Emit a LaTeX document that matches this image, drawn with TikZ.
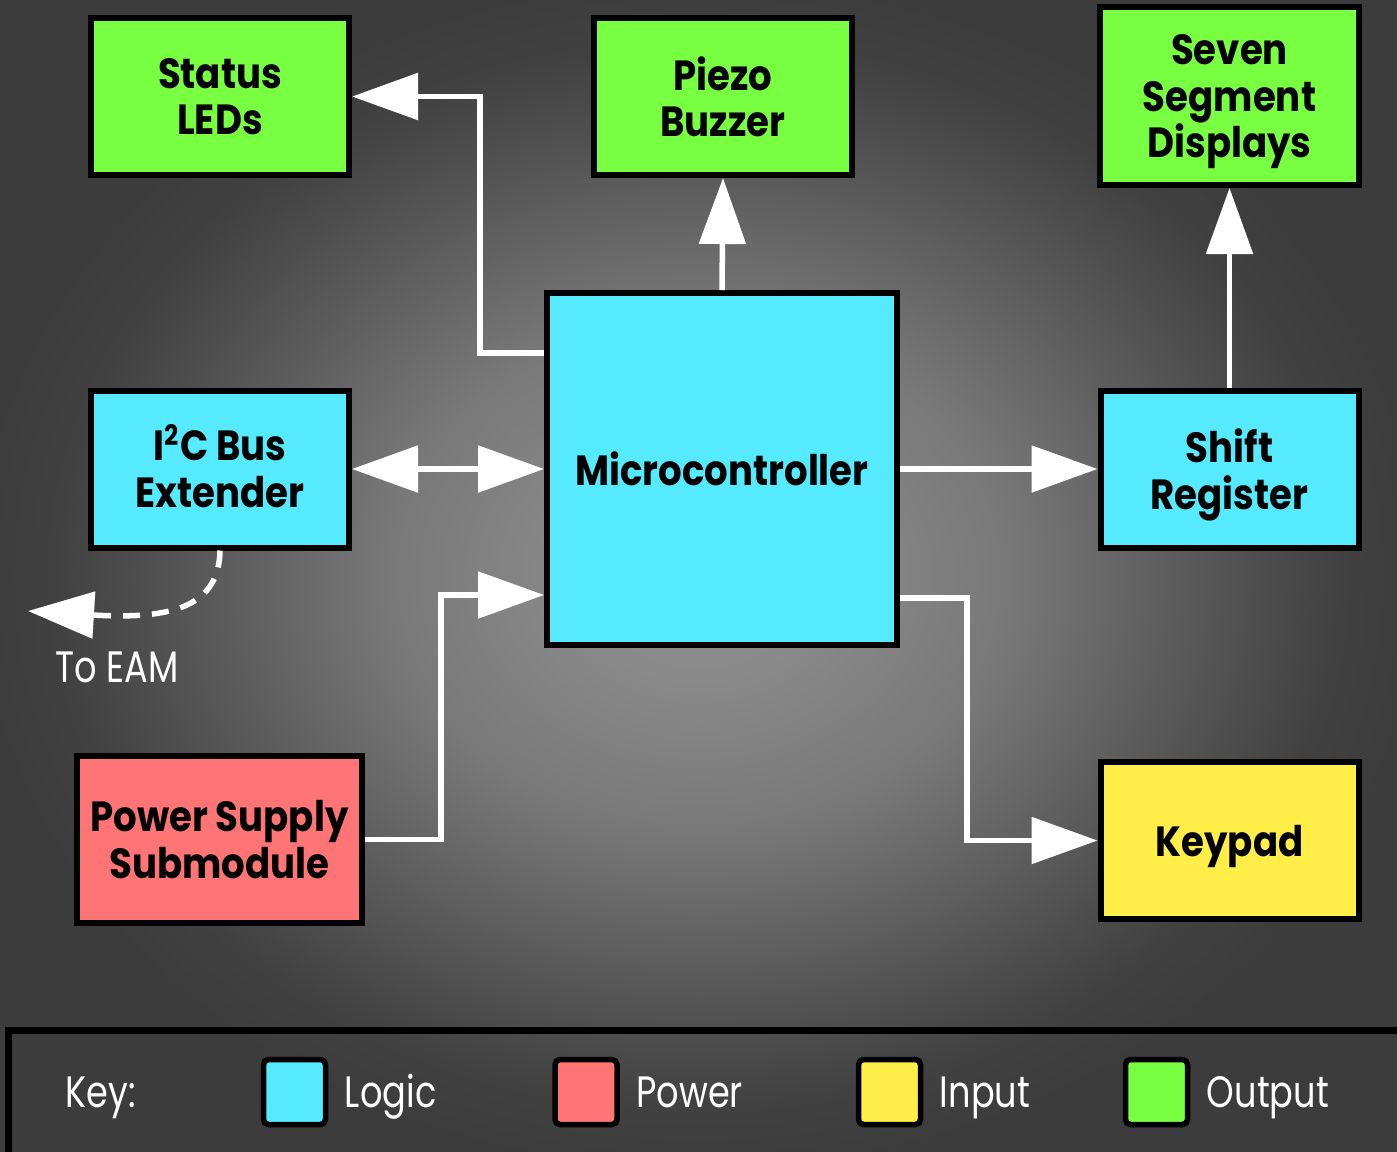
\documentclass[tikz,border=0pt]{standalone}
\usepackage{fontspec}
\setmainfont{Poppins}
\newfontfamily\boxfont[FakeStretch=0.88]{Poppins}
\newfontfamily\keyfont[FakeStretch=0.8]{Poppins}
\usetikzlibrary{arrows.meta,positioning}
\tikzstyle{block}=[draw,line width=0.6mm,align=center,inner sep=0pt,minimum width=25.8mm,minimum height=15.7mm,font=\boxfont\bfseries\fontsize{12}{13.2}\selectfont,text=black,text depth=0pt]
\tikzstyle{link}=[white,line width=0.55mm,-{Triangle[length=6.6mm,width=4.6mm]}]
\tikzstyle{swatch}=[draw,line width=0.55mm,rounded corners=0.5mm,minimum width=6.2mm,minimum height=6.5mm,inner sep=0pt]
\tikzstyle{keytext}=[text=white,inner sep=0pt,text height=3mm,text depth=0pt,font=\keyfont\fontsize{12.5}{14}\selectfont]
\definecolor{mycyan}{RGB}{85,234,254}
\definecolor{mygreen}{RGB}{120,255,66}
\definecolor{mysalmon}{RGB}{255,117,117}
\definecolor{myyellow}{RGB}{255,238,72}
\definecolor{bga}{RGB}{142,142,142}
\definecolor{bgb}{RGB}{137,137,137}
\definecolor{bgc}{RGB}{121,121,121}
\definecolor{bgd}{RGB}{78,78,78}
\definecolor{bge}{RGB}{65,65,65}
\definecolor{bgedge}{RGB}{60,60,60}
\pgfdeclareradialshading{glow}{\pgfpoint{0bp}{0bp}}{color(0bp)=(bga); color(4.5bp)=(bgb); color(11bp)=(bgc); color(20bp)=(bgd); color(23bp)=(bge); color(26bp)=(bgedge); color(50bp)=(bgedge)}

\begin{document}
\begin{tikzpicture}
\useasboundingbox (0,0) rectangle (13.97,-11.51);
\shade[shading=glow] (0,0) rectangle (13.97,-11.51);
% blocks
\draw (2.20, -0.965) node [block, fill=mygreen] (leds) {Status\\LEDs};
\draw (7.23, -0.965) node [block, fill=mygreen] (buzzer) {Piezo\\Buzzer};
\draw (12.295, -0.96) node [block, fill=mygreen, minimum width=25.9mm, minimum height=17.8mm] (seven) {Seven\\Segment\\Displays};
\draw (2.20, -4.69) node [block, fill=mycyan] (i2c) {I\smash{\textsuperscript{2}}C Bus\\Extender};
\draw (7.22, -4.69) node [block, fill=mycyan, minimum width=35mm, minimum height=35.2mm] (mcu) {Microcontroller};
\draw (12.295, -4.69) node [block, fill=mycyan] (shift) {Shift\\Register};
\draw (2.195, -8.395) node [block, fill=mysalmon, minimum width=28.5mm, minimum height=16.7mm] (power) {Power Supply\\Submodule};
\draw (12.295, -8.405) node [block, fill=myyellow] (keypad) {Keypad};
% connections
\draw[link] (mcu.north) -- (buzzer.south);
\draw[link] ([yshift=-6.3mm]mcu.north west) -- ++(-0.64,0) |- (leds.east);
\draw[link, {Triangle[length=6.6mm,width=4.6mm]}-{Triangle[length=6.6mm,width=4.6mm]}] (i2c.east) -- (mcu.west);
\draw[link] (mcu.east) -- (shift.west);
\draw[link] (shift.north) -- (seven.south);
\draw[link] ([yshift=5mm]mcu.south east) -- ++(0.67,0) |- (keypad.west);
\draw[link] (power.east) -- ++(0.76,0) |- ([yshift=5.3mm]mcu.south west);
\coordinate (eam) at (0.28, -6.11);
\draw[link, dash pattern=on 1.7mm off 1.2mm] (i2c.south) .. controls (2.19, -6.05) and (1.75, -6.2) .. (eam);
\draw (1.17, -6.67) node [keytext] (toeam) {To EAM};
% key
\begin{scope}
\clip (0,0) rectangle (13.97,-11.51);
\draw[line width=0.7mm] (0.09, -10.30) rectangle (14.3, -11.8);
\end{scope}
\draw (1.01, -10.92) node [keytext] (key) {Key:};
\draw (2.945, -10.92) node [swatch, fill=mycyan] (klogic) {};
\draw (5.86, -10.92) node [swatch, fill=mysalmon] (kpower) {};
\draw (8.895, -10.92) node [swatch, fill=myyellow] (kinput) {};
\draw (11.565, -10.92) node [swatch, fill=mygreen] (koutput) {};
\node [keytext, right=1.6mm of klogic] (tlogic) {Logic};
\node [keytext, right=1.6mm of kpower] (tpower) {Power};
\node [keytext, right=1.6mm of kinput] (tinput) {Input};
\node [keytext, right=1.6mm of koutput] (toutput) {Output};
\end{tikzpicture}
\end{document}
